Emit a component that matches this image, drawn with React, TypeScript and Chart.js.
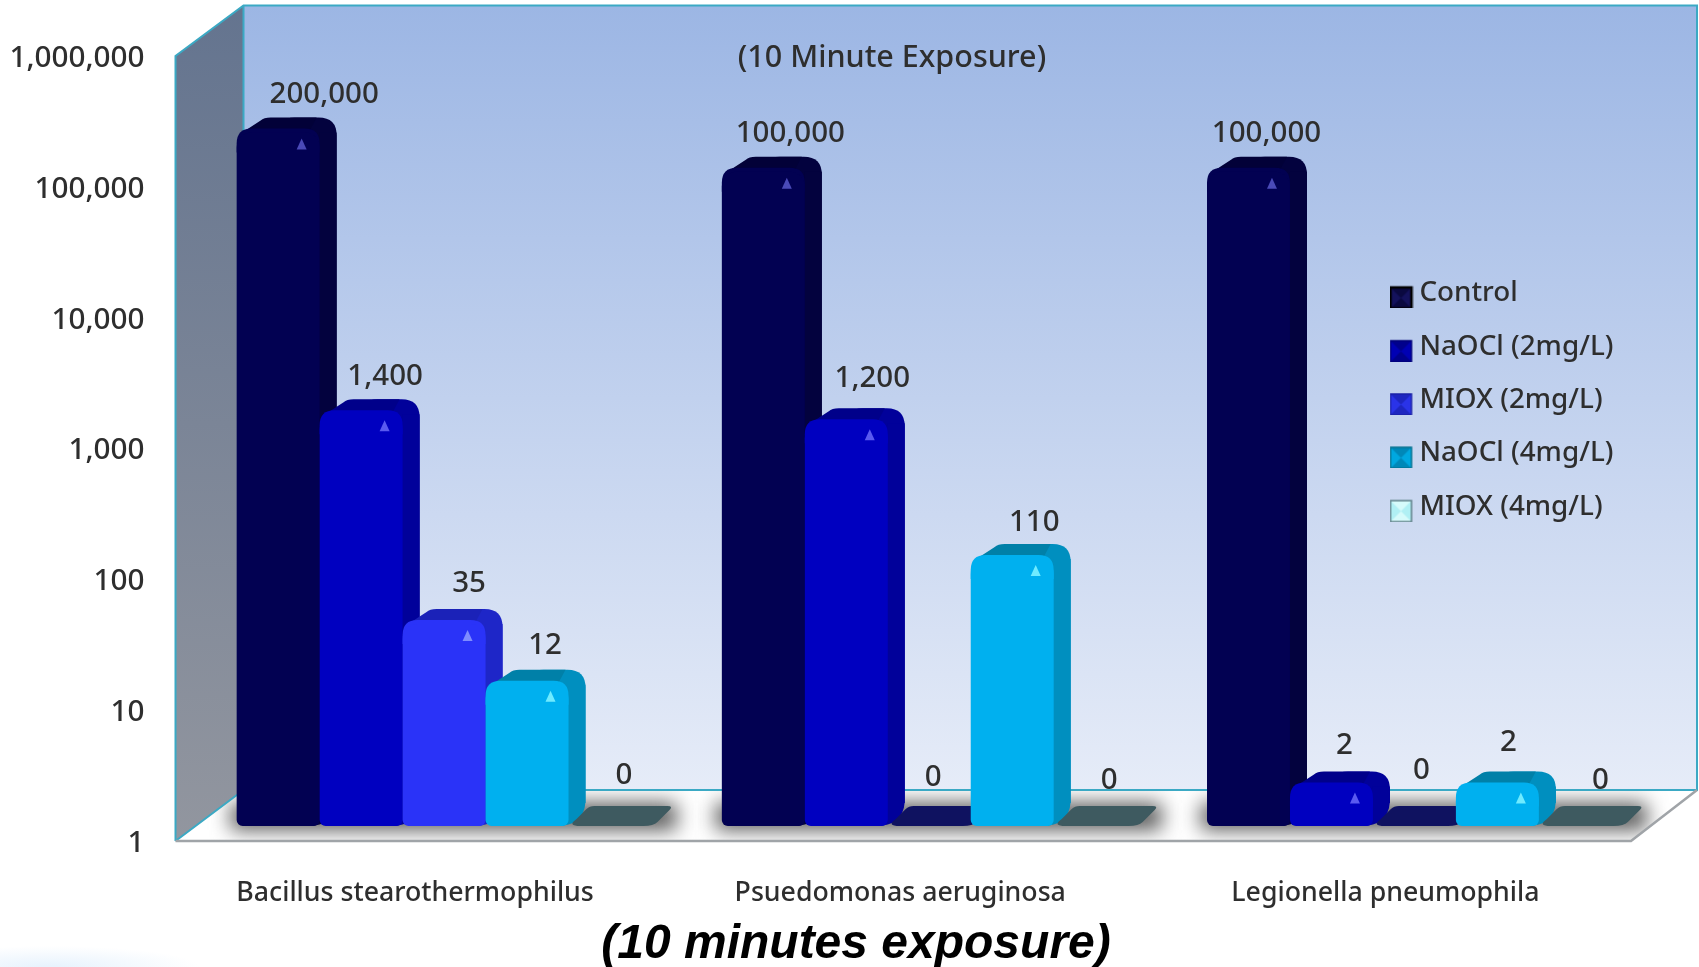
import React, { useEffect, useRef } from "react";
import { Chart, registerables } from "chart.js";

Chart.register(...registerables);

const categories = ["Bacillus stearothermophilus", "Psuedomonas aeruginosa", "Legionella pneumophila"];
const control = [200000, 100000, 100000];
const naocl2 = [1400, 1200, 2];
const miox2 = [35, 0, 0];
const naocl4 = [12, 110, 2];
const miox4 = [0, 0, 0];
const seriesNames = ["Control", "NaOCl (2mg/L)", "MIOX (2mg/L)", "NaOCl (4mg/L)", "MIOX (4mg/L)"];
const yTicks = [1, 10, 100, 1000, 10000, 100000, 1000000];

const FONT = "'Noto Sans'";
const TEXT = "#2E2E2E";
const seriesValues = [control, naocl2, miox2, naocl4, miox4];
const frontColors = ["#020152", "#0000C0", "#2A33F8", "#00B0EF", "#A6EEF2"];
const sideColors = ["#03023E", "#01019A", "#1E26C8", "#008FBF", "#6FB7C0"];
const topColors = ["#020138", "#00008A", "#1B22B8", "#0080A8", "#3E5A60"];
const flatColors = ["#020152", "#00008A", "#0F1260", "#0080A8", "#3E5A60"];
const glintColors = ["#4A4AB8", "#5A5AF0", "#7F8CFF", "#6FEBFF", "#D0FFFF"];
const legendEdges = ["#000000", "#00007A", "#1B22A8", "#00708F", "#5F8088"];
const legendFills = ["#14125C", "#0000B4", "#2A33E8", "#00A8E0", "#B0F0F4"];
const legendBevels = ["#0A0940", "#00008C", "#1E26C0", "#0088B8", "#D6FBFB"];

// how far each value label sits right of its bar's centre, and above its default height
const labelNudgeX = [
  [46, 27, 18],
  [24, 26, 13],
  [25, 4, 7],
  [18, 22, 11],
  [14, 14, 20],
];
const labelNudgeY = [
  [0, 0, 0],
  [0, 7, 3],
  [2, -3, 4],
  [1, -2, 6],
  [-1, -6, -6],
];
const DX = 17;
const DY = 15;

function rrTop(ctx: CanvasRenderingContext2D, l: number, r: number, t: number, b: number, rad: number) {
  ctx.beginPath();
  ctx.moveTo(l, b);
  ctx.lineTo(l, t + rad);
  ctx.quadraticCurveTo(l, t, l + rad, t);
  ctx.lineTo(r - rad, t);
  ctx.quadraticCurveTo(r, t, r, t + rad);
  ctx.lineTo(r, b);
  ctx.closePath();
}

// small bevelled swatch for the legend; sits a little under the text's middle
function swatch(i: number): HTMLCanvasElement {
  const c = document.createElement("canvas");
  c.width = 24;
  c.height = 30;
  const g = c.getContext("2d") as CanvasRenderingContext2D;
  const y0 = 9;
  const s = 21;
  g.fillStyle = legendFills[i];
  g.fillRect(1, y0, s, s);
  g.fillStyle = legendBevels[i];
  g.beginPath();
  g.moveTo(1, y0);
  g.lineTo(1 + s, y0);
  g.lineTo(1 + s / 2, y0 + s / 2);
  g.lineTo(1 + s, y0 + s);
  g.lineTo(1, y0 + s);
  g.lineTo(1 + s / 2, y0 + s / 2);
  g.closePath();
  g.fill();
  g.strokeStyle = legendEdges[i];
  g.lineWidth = i === 0 ? 2.5 : 1.5;
  g.strokeRect(1, y0, s, s);
  return c;
}

const scene = {
  id: "scene",
  afterLayout(chart: any) {
    const lg = chart.legend;
    lg.left = 1372;
    lg.top = 254;
    chart.scales.y.left = 0;
  },
  beforeDraw(chart: any) {
    const ctx: CanvasRenderingContext2D = chart.ctx;
    const a = chart.chartArea;
    const fx = a.left - 26;
    const fy = a.bottom + 15;
    const bx = fx + 68;
    const by = fy - 51;
    const ftop = a.top + 15;
    const btop = 5.5;
    const rx = chart.width - 2;
    const frx = a.right - 26;
    ctx.save();
    ctx.fillStyle = "#ffffff";
    ctx.fillRect(0, 0, chart.width, chart.height);
    // faint tint in the lower left corner
    ctx.save();
    ctx.translate(50, 967);
    ctx.scale(1, 0.14);
    const corner = ctx.createRadialGradient(0, 0, 10, 0, 0, 150);
    corner.addColorStop(0, "rgba(232,243,253,1)");
    corner.addColorStop(1, "rgba(232,243,253,0)");
    ctx.fillStyle = corner;
    ctx.fillRect(-60, -150, 220, 150);
    ctx.restore();
    // back wall
    const g = ctx.createLinearGradient(0, btop, 0, by);
    g.addColorStop(0, "#9CB6E4");
    g.addColorStop(1, "#E6ECF8");
    ctx.fillStyle = g;
    ctx.fillRect(bx, btop, rx - bx, by - btop);
    // left wall
    const w = ctx.createLinearGradient(0, btop, 0, fy);
    w.addColorStop(0, "#64748F");
    w.addColorStop(1, "#92969F");
    ctx.fillStyle = w;
    ctx.beginPath();
    ctx.moveTo(fx, ftop);
    ctx.lineTo(bx, btop);
    ctx.lineTo(bx, by);
    ctx.lineTo(fx, fy);
    ctx.closePath();
    ctx.fill();
    // floor with a soft shadow under each group of bars
    ctx.fillStyle = "#ffffff";
    ctx.beginPath();
    ctx.moveTo(fx, fy);
    ctx.lineTo(bx, by);
    ctx.lineTo(rx, by);
    ctx.lineTo(frx, fy);
    ctx.closePath();
    ctx.fill();
    ctx.save();
    ctx.clip();
    const first = chart.getDatasetMeta(0).data;
    const last = chart.getDatasetMeta(chart.data.datasets.length - 1).data;
    ctx.filter = "blur(10px)";
    ctx.fillStyle = "rgba(70,70,70,0.9)";
    first.forEach((bar: any, j: number) => {
      const l = bar.x - bar.width / 2;
      const r = last[j].x + last[j].width / 2 + DX;
      ctx.fillRect(l - 6, bar.base - 23, r - l + 14, 27);
    });
    ctx.restore();
    // edges
    ctx.strokeStyle = "#3BA9C4";
    ctx.lineWidth = 2;
    ctx.beginPath();
    ctx.moveTo(fx, fy);
    ctx.lineTo(fx, ftop);
    ctx.lineTo(bx, btop);
    ctx.lineTo(rx, btop);
    ctx.lineTo(rx, by);
    ctx.lineTo(bx, by);
    ctx.moveTo(bx, btop);
    ctx.lineTo(bx, by);
    ctx.lineTo(fx, fy);
    ctx.stroke();
    ctx.strokeStyle = "#A0A4A8";
    ctx.lineWidth = 2.5;
    ctx.beginPath();
    ctx.moveTo(fx, fy);
    ctx.lineTo(frx, fy);
    ctx.lineTo(rx, by);
    ctx.stroke();
    // inner caption
    ctx.fillStyle = TEXT;
    ctx.font = `500 30.5px ${FONT}`;
    ctx.textAlign = "center";
    ctx.textBaseline = "middle";
    ctx.fillText("(10 Minute Exposure)", 892, 58);
    ctx.restore();
  },
  beforeDatasetsDraw(chart: any) {
    const ctx: CanvasRenderingContext2D = chart.ctx;
    chart.data.datasets.forEach((_: any, i: number) => {
      const meta = chart.getDatasetMeta(i);
      meta.data.forEach((bar: any, j: number) => {
        const { x, y, base, width } = bar;
        const l = x - width / 2;
        const r = x + width / 2;
        const value = seriesValues[i][j];
        ctx.save();
        if (value <= 0) {
          ctx.fillStyle = flatColors[i];
          ctx.beginPath();
          ctx.moveTo(l + 12, base);
          ctx.quadraticCurveTo(l - 2, base, l + 8, base - 7);
          ctx.lineTo(l + 18, base - 17);
          ctx.quadraticCurveTo(l + 21, base - 20, l + 26, base - 20);
          ctx.lineTo(r + 16, base - 20);
          ctx.quadraticCurveTo(r + 22, base - 20, r + 18, base - 16);
          ctx.lineTo(r + 6, base - 4);
          ctx.quadraticCurveTo(r + 2, base, r - 8, base);
          ctx.closePath();
          ctx.fill();
        } else {
          rrTop(ctx, l + 40, r + DX, y - DY, base - DY - 8, 18);
          ctx.fillStyle = sideColors[i];
          ctx.fill();
          ctx.beginPath();
          ctx.moveTo(r - 12, base);
          ctx.quadraticCurveTo(r + DX - 2, base, r + DX, base - DY - 9);
          ctx.lineTo(r + DX, y);
          ctx.lineTo(r, y);
          ctx.closePath();
          ctx.fill();
          ctx.fillStyle = topColors[i];
          ctx.beginPath();
          ctx.moveTo(l + 4, y + 1);
          ctx.lineTo(l + 24, y - DY + 3);
          ctx.quadraticCurveTo(l + 27, y - DY, l + 34, y - DY);
          ctx.lineTo(r + DX - 20, y - DY);
          ctx.lineTo(r - 10, y - 2);
          ctx.lineTo(l + 14, y - 2);
          ctx.closePath();
          ctx.fill();
          // the front face's shoulder rises slightly past the value line
          rrTop(ctx, l, r, y - 4, y + 20, 15);
          ctx.fillStyle = frontColors[i];
          ctx.fill();
          bar.draw(ctx);
          // glint on the bar shoulder
          ctx.fillStyle = glintColors[i];
          ctx.beginPath();
          ctx.moveTo(r - 23, y + 17);
          ctx.lineTo(r - 18, y + 6);
          ctx.lineTo(r - 13, y + 17);
          ctx.closePath();
          ctx.fill();
        }
        ctx.restore();
      });
    });
    // value labels, from the bars' own positions
    ctx.save();
    ctx.fillStyle = TEXT;
    ctx.font = `500 29.5px ${FONT}`;
    ctx.textAlign = "center";
    ctx.textBaseline = "middle";
    chart.data.datasets.forEach((_: any, i: number) => {
      chart.getDatasetMeta(i).data.forEach((bar: any, j: number) => {
        const value = seriesValues[i][j];
        const gap = (value > 0 ? 38 : 51) + labelNudgeY[i][j];
        ctx.fillText(value.toLocaleString("en-US"), bar.x + labelNudgeX[i][j], bar.y - gap);
      });
    });
    ctx.restore();
    return false;
  },
};

export default function App() {
  const ref = useRef<HTMLCanvasElement | null>(null);
  useEffect(() => {
    if (!ref.current) return;
    document.body.style.margin = "0";
    document.body.style.overflow = "hidden";
    const chart = new Chart(ref.current, {
      type: "bar",
      data: {
        labels: categories,
        datasets: seriesValues.map((values, i) => ({
          label: seriesNames[i],
          data: values,
          backgroundColor: frontColors[i],
          borderWidth: 0,
          borderSkipped: false,
          borderRadius: { topLeft: 15, topRight: 15, bottomLeft: 6, bottomRight: 6 },
          categoryPercentage: 0.855,
          barPercentage: 1,
        })),
      },
      options: {
        responsive: false,
        animation: false,
        devicePixelRatio: 1,
        layout: { autoPadding: false, padding: { left: 55, right: 42, top: 41, bottom: 0 } },
        scales: {
          x: {
            grid: { display: false, drawTicks: false },
            border: { display: false },
            ticks: {
              color: TEXT,
              font: { family: FONT, size: 26.7, weight: "500" },
              padding: 51,
              labelOffset: -29,
              maxRotation: 0,
              autoSkip: false,
            },
            afterFit: (s: any) => {
              s.height = 97;
            },
          },
          y: {
            type: "logarithmic",
            min: 1,
            max: 1000000,
            grid: { display: false, drawTicks: false },
            border: { display: false },
            afterBuildTicks: (s: any) => {
              s.ticks = yTicks.map((value) => ({ value, major: true }));
            },
            ticks: {
              color: TEXT,
              font: { family: FONT, size: 29.7, weight: "500" },
              padding: 57,
              labelOffset: 17.5,
              autoSkip: false,
              callback: (v: any) => Number(v).toLocaleString("en-US"),
            },
            afterFit: (s: any) => {
              s.width = 146.5;
              s.paddingTop = 0;
              s.paddingBottom = 0;
            },
          },
        },
        plugins: {
          tooltip: { enabled: false },
          title: {
            display: true,
            position: "bottom",
            text: "(10 minutes exposure)",
            color: "#000000",
            font: { family: "'Liberation Sans'", size: 48, weight: "bold", style: "italic", lineHeight: 0.917 },
            padding: 0,
          },
          legend: {
            display: true,
            position: "chartArea",
            align: "start",
            labels: {
              color: TEXT,
              font: { family: FONT, size: 27.8, weight: "500" },
              usePointStyle: true,
              pointStyleWidth: 8,
              boxHeight: 20,
              padding: 25.5,
              generateLabels: (c: any) =>
                Chart.defaults.plugins.legend.labels.generateLabels(c).map((item: any, i: number) => ({
                  ...item,
                  pointStyle: swatch(i),
                  fontColor: TEXT,
                })),
            },
          },
        },
      },
      plugins: [scene],
    } as any);
    return () => chart.destroy();
  }, []);
  return (
    <div style={{ position: "absolute", left: 0, top: 0, width: 1699, height: 967 }}>
      <canvas ref={ref} width={1699} height={967} style={{ display: "block", width: 1699, height: 967 }} />
    </div>
  );
}
